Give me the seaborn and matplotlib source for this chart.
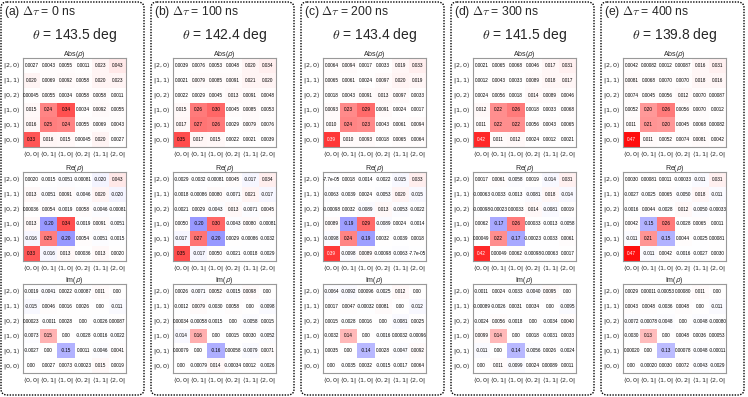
# Density matrices for five delays: Abs, Re and Im heatmaps
import numpy as np
import pandas as pd
import seaborn as sns
import matplotlib.pyplot as plt
from matplotlib.patches import FancyBboxPatch

sns.set_style("white")
plt.rcParams['font.family'] = ['Liberation Sans', 'DejaVu Sans']

#%%
# Data (rows from top: |2,0>, |1,1>, |0,2>, |1,0>, |0,1>, |0,0>)
row_labels = [r'$|2, 0\rangle$', r'$|1, 1\rangle$', r'$|0, 2\rangle$',
              r'$|1, 0\rangle$', r'$|0, 1\rangle$', r'$|0, 0\rangle$']
col_labels = [r'$\langle 0, 0|$', r'$\langle 0, 1|$', r'$\langle 1, 0|$',
              r'$\langle 0, 2|$', r'$\langle 1, 1|$', r'$\langle 2, 0|$']
letters = ["a", "b", "c", "d", "e"]
delays = [0, 100, 200, 300, 400]
thetas = [143.5, 142.4, 143.4, 141.5, 139.8]

abs_a = [[0.0027, 0.0043, 0.0055, 0.0011, 0.023, 0.043],
         [0.020, 0.0069, 0.0092, 0.0058, 0.020, 0.023],
         [0.00045, 0.0055, 0.0034, 0.0058, 0.0058, 0.0011],
         [0.015, 0.24, 0.34, 0.0034, 0.0092, 0.0055],
         [0.016, 0.25, 0.24, 0.0055, 0.0069, 0.0043],
         [0.33, 0.016, 0.015, 0.00045, 0.020, 0.0027]]
re_a = [[0.0020, -0.0015, -0.0051, -0.00081, -0.020, 0.043],
        [0.013, -0.0051, 0.0091, -0.0046, 0.020, -0.020],
        [0.00036, 0.0054, -0.0019, 0.0058, -0.0046, -0.00081],
        [0.013, -0.20, 0.34, -0.0019, 0.0091, -0.0051],
        [-0.016, 0.25, -0.20, 0.0054, -0.0051, -0.0015],
        [0.33, -0.016, 0.013, 0.00036, 0.013, 0.0020]]
im_a = [[-0.0019, -0.0041, 0.0022, -0.00087, 0.011, 0.00],
        [-0.015, 0.0046, 0.0016, 0.0026, 0.00, -0.011],
        [0.00023, -0.0011, 0.0028, 0.00, -0.0026, 0.00087],
        [-0.0073, 0.15, 0.00, -0.0028, -0.0016, -0.0022],
        [-0.0027, 0.00, -0.15, 0.0011, -0.0046, 0.0041],
        [0.00, 0.0027, 0.0073, -0.00023, 0.015, 0.0019]]

abs_b = [[0.0039, 0.0076, 0.0053, 0.0048, 0.020, 0.034],
         [0.0021, 0.0079, 0.0085, 0.0091, 0.021, 0.020],
         [0.0022, 0.0029, 0.0045, 0.013, 0.0091, 0.0048],
         [0.015, 0.26, 0.30, 0.0045, 0.0085, 0.0053],
         [0.017, 0.27, 0.26, 0.0029, 0.0079, 0.0076],
         [0.35, 0.017, 0.015, 0.0022, 0.0021, 0.0039]]
re_b = [[-0.0029, -0.0032, -0.00081, 0.0045, -0.017, 0.034],
        [-0.0018, -0.00086, 0.0080, -0.0071, 0.021, -0.017],
        [-0.0021, 0.0029, -0.0043, 0.013, -0.0071, 0.0045],
        [0.0050, -0.20, 0.30, -0.0043, 0.0080, -0.00081],
        [-0.017, 0.27, -0.20, 0.0029, -0.00086, -0.0032],
        [0.35, -0.017, 0.0050, -0.0021, -0.0018, -0.0029]]
im_b = [[0.0026, -0.0071, 0.0052, -0.0015, 0.0098, 0.00],
        [-0.0012, 0.0079, -0.0030, 0.0058, 0.00, -0.0098],
        [0.00034, -0.00058, -0.0015, 0.00, -0.0058, 0.0015],
        [-0.014, 0.16, 0.00, 0.0015, 0.0030, -0.0052],
        [0.00079, 0.00, -0.16, 0.00058, -0.0079, 0.0071],
        [0.00, -0.00079, 0.014, -0.00034, 0.0012, -0.0026]]

abs_c = [[0.0064, 0.0094, 0.0017, 0.0033, 0.019, 0.033],
         [0.0065, 0.0061, 0.0024, 0.0097, 0.020, 0.019],
         [0.0018, 0.0043, 0.0091, 0.013, 0.0097, 0.0033],
         [0.0093, 0.23, 0.29, 0.0091, 0.0024, 0.0017],
         [0.010, 0.24, 0.23, 0.0043, 0.0061, 0.0094],
         [0.39, 0.010, 0.0093, 0.0018, 0.0065, 0.0064]]
re_c = [[-7.7e-05, 0.0018, -0.0014, -0.0022, -0.015, 0.033],
        [-0.0063, -0.0039, 0.0024, -0.0053, 0.020, -0.015],
        [-0.00098, 0.0032, -0.0089, 0.013, -0.0053, -0.0022],
        [0.0089, -0.19, 0.29, -0.0089, 0.0024, -0.0014],
        [-0.0098, 0.24, -0.19, 0.0032, -0.0039, 0.0018],
        [0.39, -0.0098, 0.0089, -0.00098, -0.0063, -7.7e-05]]
im_c = [[-0.0064, -0.0092, 0.00096, -0.0025, 0.012, 0.00],
        [0.0017, 0.0047, -0.00032, 0.0081, 0.00, -0.012],
        [0.0015, -0.0028, 0.0016, 0.00, -0.0081, 0.0025],
        [-0.0032, 0.14, 0.00, -0.0016, 0.00032, -0.00096],
        [0.0035, 0.00, -0.14, 0.0028, -0.0047, 0.0092],
        [0.00, -0.0035, 0.0032, -0.0015, -0.0017, 0.0064]]

abs_d = [[0.0021, 0.0065, 0.0068, 0.0046, 0.017, 0.031],
         [0.0012, 0.0043, 0.0033, 0.0089, 0.018, 0.017],
         [0.0024, 0.0056, 0.0018, 0.014, 0.0089, 0.0046],
         [0.012, 0.22, 0.26, 0.0018, 0.0033, 0.0068],
         [0.011, 0.22, 0.22, 0.0056, 0.0043, 0.0065],
         [0.42, 0.011, 0.012, 0.0024, 0.0012, 0.0021]]
re_d = [[0.0017, 0.0061, -0.0058, 0.0019, -0.014, 0.031],
        [-0.00063, -0.0033, -0.0013, -0.0081, 0.018, -0.014],
        [-0.00098, -0.00023, 0.00033, 0.014, -0.0081, 0.0019],
        [0.0062, -0.17, 0.26, 0.00033, -0.0013, -0.0058],
        [0.00049, 0.22, -0.17, -0.00023, -0.0033, 0.0061],
        [0.42, 0.00049, 0.0062, -0.00098, -0.00063, 0.0017]]
im_d = [[-0.0011, 0.0024, -0.0033, -0.0040, 0.0095, 0.00],
        [-0.00089, -0.0026, 0.0031, 0.0034, 0.00, -0.0095],
        [-0.0024, 0.0056, -0.0018, 0.00, -0.0034, 0.0040],
        [0.0099, 0.14, 0.00, 0.0018, -0.0031, 0.0033],
        [-0.011, 0.00, -0.14, -0.0056, 0.0026, -0.0024],
        [0.00, 0.011, -0.0099, 0.0024, 0.00089, 0.0011]]

abs_e = [[0.0042, 0.00082, 0.0012, 0.00087, 0.016, 0.031],
         [0.0081, 0.0068, 0.0070, 0.0070, 0.018, 0.016],
         [0.0074, 0.0045, 0.0056, 0.012, 0.0070, 0.00087],
         [0.0052, 0.20, 0.26, 0.0056, 0.0070, 0.0012],
         [0.011, 0.21, 0.20, 0.0045, 0.0068, 0.00082],
         [0.47, 0.011, 0.0052, 0.0074, 0.0081, 0.0042]]
re_e = [[0.0030, 0.00081, 0.0011, -0.00033, -0.011, 0.031],
        [-0.0027, -0.0025, 0.0065, -0.0050, 0.018, -0.011],
        [-0.0016, 0.0044, -0.0028, 0.012, -0.0050, -0.00033],
        [0.0042, -0.15, 0.26, -0.0028, 0.0065, 0.0011],
        [-0.011, 0.21, -0.15, 0.0044, -0.0025, 0.00081],
        [0.47, -0.011, 0.0042, -0.0016, -0.0027, 0.0030]]
im_e = [[0.0029, 0.00011, -0.00053, 0.00080, 0.011, 0.00],
        [0.0043, 0.0048, -0.0036, 0.0048, 0.00, -0.011],
        [-0.0072, -0.00078, -0.0048, 0.00, -0.0048, -0.00080],
        [-0.0030, 0.13, 0.00, 0.0048, 0.0036, 0.00053],
        [0.00020, 0.00, -0.13, 0.00078, -0.0048, -0.00011],
        [0.00, -0.00020, 0.0030, 0.0072, -0.0043, -0.0029]]

panels = [(abs_a, re_a, im_a), (abs_b, re_b, im_b), (abs_c, re_c, im_c),
          (abs_d, re_d, im_d), (abs_e, re_e, im_e)]
kinds = [r'Abs($\rho$)', r'Re($\rho$)', r'Im($\rho$)']


def fmt(v):
    if v == 0:
        return "0.00"
    return format(v, '#.2g')


#%%
W, H = 748, 397
fig = plt.figure(figsize=(W / 100, H / 100), dpi=100)

# background axes in pixel units for the boxes and panel titles
bg = fig.add_axes([0, 0, 1, 1], zorder=-1)
bg.set_xlim(0, W)
bg.set_ylim(H, 0)
bg.axis('off')

tops = [58, 172, 284]
hm_h = 89
hm_w = 103

titles = []
subtitles = []
for k in range(5):
    x0 = 1 + 150 * k
    r = 6
    box = FancyBboxPatch((x0 + r, 2 + r), 143 - 2 * r, 393 - 2 * r,
                         boxstyle="round,pad=%d" % r, fill=False,
                         linestyle=(0, (1, 1)), linewidth=1.0, edgecolor="black")
    bg.add_patch(box)
    t1 = bg.text(x0 + 3, 12.5, "(%s) $\\Delta\\tau$ = %d ns" % (letters[k], delays[k]),
                 fontsize=10, ha='left', va='center', math_fontfamily='cm')
    left = 23 + 150 * k
    t2 = bg.text(left + hm_w / 2, 35, "$\\theta$ = %.1f deg" % thetas[k],
                 fontsize=10, ha='center', va='center', math_fontfamily='cm')
    titles.append(t1)
    subtitles.append(t2)

    for m in range(3):
        vals = np.array(panels[k][m])
        df = pd.DataFrame(vals, index=row_labels, columns=col_labels)
        labels = np.vectorize(fmt)(vals)
        top = tops[m]
        ax = fig.add_axes([left / W, 1 - (top + hm_h) / H, hm_w / W, hm_h / H])
        sns.heatmap(df, ax=ax, cmap="bwr", vmin=-0.5, vmax=0.5, cbar=False,
                    annot=labels, fmt="", xticklabels=col_labels,
                    yticklabels=row_labels,
                    annot_kws={"fontsize": 3.3, "color": "black"})
        for t, v in zip(ax.texts, vals.flatten()):
            if v > 0.36:
                t.set_color("white")
        ax.set_title(kinds[m], fontsize=5, pad=1.5)
        ax.tick_params(length=0, pad=1.5, labelsize=4.6)
        plt.setp(ax.get_yticklabels(), rotation=0)
        plt.setp(ax.get_xticklabels(), rotation=0)
        ax.set_xlabel("")
        ax.set_ylabel("")
        for s in ax.spines.values():
            s.set_visible(True)
            s.set_color("#999999")
            s.set_linewidth(0.8)

# scale the two header lines so panel (b) matches the widths seen (~85 px)
fig.canvas.draw()
rend = fig.canvas.get_renderer()
w1 = titles[1].get_window_extent(rend).width
w2 = subtitles[1].get_window_extent(rend).width
for t in titles:
    t.set_fontsize(10 * 85 / w1)
for t in subtitles:
    t.set_fontsize(10 * 85 / w2)

plt.savefig("out.png", dpi=100)
